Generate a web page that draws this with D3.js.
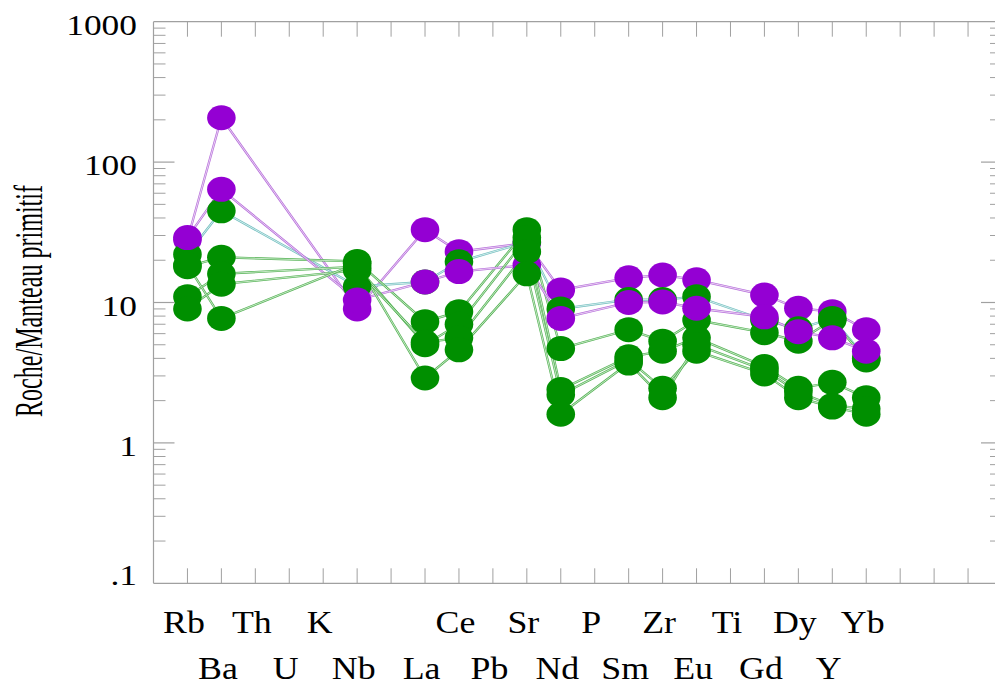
<!DOCTYPE html>
<html>
<head>
<meta charset="utf-8">
<script src="https://cdn.jsdelivr.net/npm/d3@7"></script>
<style>
  html, body { margin: 0; padding: 0; background: #fff; }
  svg { display: block; }
  text { font-family: "Liberation Serif", "Times New Roman", serif; fill: #000; }
</style>
</head>
<body>
<script>
// ---------- data ----------
const elements = ["Rb","Ba","Th","U","K","Nb","","La","Ce","Pb","Sr","Nd","P","Sm","Zr","Eu","Ti","Gd","Dy","Y","Yb"];
const yTickValues = [1000, 100, 10, 1, 0.1];
const yTickLabels = ["1000", "100", "10", "1", ".1"];
const yLabel = "Roche/Manteau primitif";

// drawing order: P1, G1, G2, P2, G3, G4, G5
const seriesNames = ["P1", "G1", "G2", "P2", "G3", "G4", "G5"];
const seriesGroup = ["violet", "teal", "green", "violet", "green", "green", "green"];
const P1 = [28, 207, null, null, null, 9.0, null, 33, 23, null, 26.5, 12.3, null, 15, 15.7, 14.5, null, 11.3, 9.1, 8.6, 6.4];
const G1 = [22, 45, null, null, null, 13, null, 14, 19.5, null, 27, 9.0, null, 10.5, 10.5, 11, null, 7.5, 6.5, 7.7, 4.0];
const G2 = [18, 21, null, null, null, 19.6, null, 7.3, 8.6, null, 33, 4.7, null, 6.4, 5.3, 7.5, null, 6.1, 5.3, 7.5, 3.9];
const P2 = [29, 64, null, null, null, 10.4, null, 14, 16.6, null, 18.5, 7.7, null, 10, 10.1, 9.1, null, 7.9, 6.2, 5.6, 4.5];
const G3 = [11, 16, null, null, null, 18, null, 5.0, 7.0, null, 29, 2.4, null, 4.1, 4.5, 5.6, null, 3.5, 2.45, 2.7, 2.1];
const G4 = [9.0, 13.5, null, null, null, 17, null, 5.2, 5.6, null, 23, 2.2, null, 3.9, 2.45, 4.5, null, 3.1, 2.1, 1.8, 1.6];
const G5 = [18.5, 7.7, null, null, null, 19, null, 2.9, 4.6, null, 16, 1.6, null, 3.7, 2.1, 5.0, null, 3.3, 2.3, 1.85, 1.75];
const seriesValues = [P1, G1, G2, P2, G3, G4, G5];

// ---------- styles ----------
const markerColor = { violet: "#9400d3", teal: "#008f00", green: "#008f00" };
const lineOuter = { violet: "#b870dc", teal: "#74c0c0", green: "#58b458" };
const lineInner = { violet: "#f4e8f8", teal: "#e8f6f6", green: "#e0f4e0" };

const W = 995, H = 684;
const pLeft = 153.5, pRight = 1002, pTop = 21.7, pBottom = 583.3;

const svg = d3.select("body").append("svg").attr("width", W).attr("height", H);

const x = d3.scaleLinear().domain([-1, 24]).range([pLeft, pRight]);
const y = d3.scaleLog().domain([0.1, 1000]).range([pBottom, pTop]);

const axisColor = "#a0a0a0";
const g = svg.append("g");

// frame
g.append("line").attr("x1", pLeft).attr("x2", pLeft).attr("y1", pTop).attr("y2", pBottom)
  .attr("stroke", axisColor).attr("stroke-width", 1.2);
g.append("line").attr("x1", pRight).attr("x2", pRight).attr("y1", pTop).attr("y2", pBottom)
  .attr("stroke", axisColor).attr("stroke-width", 1.2);
g.append("line").attr("x1", pLeft).attr("x2", pRight).attr("y1", pTop).attr("y2", pTop)
  .attr("stroke", axisColor).attr("stroke-width", 1.2);
g.append("line").attr("x1", pLeft).attr("x2", pRight).attr("y1", pBottom).attr("y2", pBottom)
  .attr("stroke", axisColor).attr("stroke-width", 1.2);

// x ticks (top and bottom, inward)
const xTicks = d3.range(0, 24);
g.selectAll(null).data(xTicks).enter().append("line")
  .attr("x1", d => x(d)).attr("x2", d => x(d)).attr("y1", pTop).attr("y2", pTop + 15)
  .attr("stroke", axisColor).attr("stroke-width", 1);
g.selectAll(null).data(xTicks).enter().append("line")
  .attr("x1", d => x(d)).attr("x2", d => x(d)).attr("y1", pBottom).attr("y2", pBottom - 15)
  .attr("stroke", axisColor).attr("stroke-width", 1);

// y ticks: major and minor on both sides
const minor = [];
for (let e = -1; e < 3; e++) for (let m = 2; m <= 9; m++) minor.push(m * Math.pow(10, e));
const major = [100, 10, 1];
[[pLeft, 1], [pRight, -1]].forEach(([x0, dir]) => {
  g.selectAll(null).data(minor).enter().append("line")
    .attr("x1", x0).attr("x2", x0 + dir * 12).attr("y1", d => y(d)).attr("y2", d => y(d))
    .attr("stroke", axisColor).attr("stroke-width", 1);
  g.selectAll(null).data(major).enter().append("line")
    .attr("x1", x0).attr("x2", x0 + dir * 21).attr("y1", d => y(d)).attr("y2", d => y(d))
    .attr("stroke", axisColor).attr("stroke-width", 1.2);
});

// y tick labels
yTickValues.forEach((v, i) => {
  const by = Math.min(y(v) + 13.3, 585);
  svg.append("text")
    .attr("transform", `translate(137,${by}) scale(1.18,1)`)
    .attr("text-anchor", "end")
    .attr("font-size", 30)
    .text(yTickLabels[i]);
});

// x labels (two staggered rows)
elements.forEach((name, i) => {
  if (!name) return;
  const by = (i % 2 === 0) ? 632.7 : 678.5;
  svg.append("text")
    .attr("transform", `translate(${x(i) - 3.5},${by}) scale(1.12,1)`)
    .attr("text-anchor", "middle")
    .attr("font-size", 32)
    .text(name);
});

// y axis title
svg.append("text")
  .attr("transform", "translate(42,301) rotate(-90)")
  .attr("text-anchor", "middle")
  .attr("font-size", 41)
  .attr("textLength", 232)
  .attr("lengthAdjust", "spacingAndGlyphs")
  .text(yLabel);

// lines
const line = d3.line().x(d => x(d.i)).y(d => y(d.v));
const pts = seriesValues.map(arr => arr.map((v, i) => ({ i, v })).filter(d => d.v != null));

const lg = svg.append("g");
pts.forEach((p, s) => {
  const grp = seriesGroup[s];
  lg.append("path").attr("d", line(p)).attr("fill", "none")
    .attr("stroke", lineOuter[grp]).attr("stroke-width", 2.3);
  lg.append("path").attr("d", line(p)).attr("fill", "none")
    .attr("stroke", lineInner[grp]).attr("stroke-width", 0.8);
});

// markers
const mg = svg.append("g");
pts.forEach((p, s) => {
  const grp = seriesGroup[s];
  mg.selectAll(null).data(p).enter().append("ellipse")
    .attr("cx", d => x(d.i)).attr("cy", d => y(d.v))
    .attr("rx", 14.3).attr("ry", 12.5)
    .attr("fill", markerColor[grp]);
});
</script>
</body>
</html>
